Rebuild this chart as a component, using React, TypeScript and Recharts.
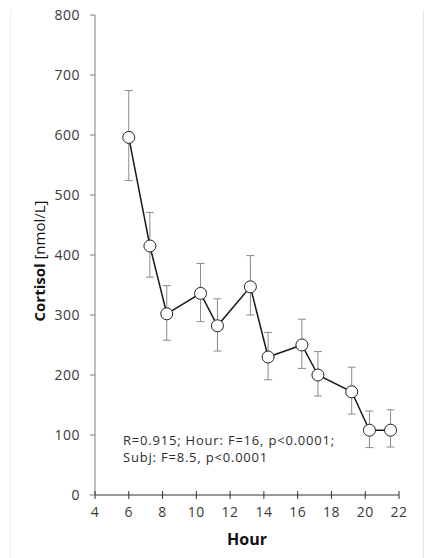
import {
  ComposedChart,
  Line,
  ErrorBar,
  XAxis,
  YAxis,
  Label,
  Customized,
} from "recharts";

// hour of sampling, mean cortisol and the ends of the error bars (nmol/L)
const hours = [6, 7.25, 8.25, 10.25, 11.25, 13.2, 14.25, 16.25, 17.2, 19.2, 20.25, 21.5];
const cortisol = [596, 415, 302, 336, 282, 347, 230, 250, 200, 172, 108, 108];
const upper = [674, 471, 349, 386, 327, 399, 271, 293, 239, 213, 140, 142];
const lower = [524, 363, 258, 289, 240, 300, 192, 211, 165, 135, 79, 80];

const xTicks = [4, 6, 8, 10, 12, 14, 16, 18, 20, 22];
const yTicks = [0, 100, 200, 300, 400, 500, 600, 700, 800];
const statsLines = ["R=0.915; Hour: F=16, p<0.0001;", "Subj: F=8.5, p<0.0001"];

const data = hours.map((h, i) => ({
  hour: h,
  cortisol: cortisol[i],
  err: [cortisol[i] - lower[i], upper[i] - cortisol[i]],
}));

const FONT = "'Open Sans', sans-serif";

function XTick(props: any) {
  const { x, y, payload } = props;
  // y is the text anchor: axis line + tickSize(4) + tickMargin(8)
  const axisY = y - 12;
  return (
    <g>
      <line x1={x} x2={x} y1={axisY - 4} y2={axisY} stroke="#333" strokeWidth={1} />
      <text
        x={x}
        y={y}
        dy="0.71em"
        textAnchor="middle"
        fill="#3a3a3a"
        fontSize={14}
        letterSpacing={0.5}
        fontFamily={FONT}
      >
        {payload.value}
      </text>
    </g>
  );
}

function YTitle(props: any) {
  const { viewBox } = props;
  const cx = 45;
  const cy = viewBox.y + viewBox.height / 2 + 6;
  return (
    <text
      x={cx}
      y={cy}
      transform={`rotate(-90, ${cx}, ${cy})`}
      textAnchor="middle"
      fontSize={15}
      fontFamily={FONT}
      fill="#111"
    >
      <tspan fontWeight="bold">Cortisol</tspan>
      <tspan> [nmol/L]</tspan>
    </text>
  );
}

function Stats() {
  return (
    <text fontSize={13} letterSpacing={0.8} fontFamily={FONT} fill="#2e2e2e">
      {statsLines.map((s, i) => (
        <tspan key={i} x={123} y={445 + i * 16.5}>
          {s}
        </tspan>
      ))}
    </text>
  );
}

export default function App() {
  return (
    <div
      style={{
        position: "absolute",
        top: 0,
        left: 0,
        width: 431,
        height: 558,
        background: "#fff",
      }}
    >
      <div
        style={{
          position: "absolute",
          left: 10,
          top: 10,
          width: 412,
          height: 548,
          borderLeft: "1px solid #ececec",
          borderRight: "1px solid #e4e4e4",
        }}
      />
      <ComposedChart
        width={431}
        height={558}
        data={data}
        margin={{ top: 15, right: 32, left: 35, bottom: 23 }}
        style={{ position: "absolute", top: 0, left: 0 }}
      >
        <XAxis
          dataKey="hour"
          type="number"
          domain={[4, 22]}
          ticks={xTicks}
          interval={0}
          allowDataOverflow
          height={40}
          tickSize={4}
          tickMargin={8}
          stroke="#333"
          tickLine={{ stroke: "#333" }}
          tick={<XTick />}
        >
          <Label
            value="Hour"
            position="insideBottom"
            offset={-10}
            fontSize={16}
            fontWeight="bold"
            fontFamily={FONT}
            fill="#111"
          />
        </XAxis>
        <YAxis
          type="number"
          domain={[0, 800]}
          ticks={yTicks}
          interval={0}
          allowDataOverflow
          width={60}
          tickSize={5}
          tickMargin={10}
          stroke="#7f7f7f"
          tick={{ fill: "#3a3a3a", fontSize: 14, fontFamily: FONT, letterSpacing: 0.5 }}
        >
          <Label content={<YTitle />} />
        </YAxis>
        <Line
          dataKey="cortisol"
          stroke="#1a1a1a"
          strokeWidth={1.5}
          dot={{ r: 6, fill: "#fff", stroke: "#222", strokeWidth: 1 }}
          activeDot={false}
          isAnimationActive={false}
        >
          <ErrorBar
            dataKey="err"
            direction="y"
            width={4}
            stroke="#8a8a8a"
            strokeWidth={1}
          />
        </Line>
        <Customized component={<Stats />} />
      </ComposedChart>
    </div>
  );
}
